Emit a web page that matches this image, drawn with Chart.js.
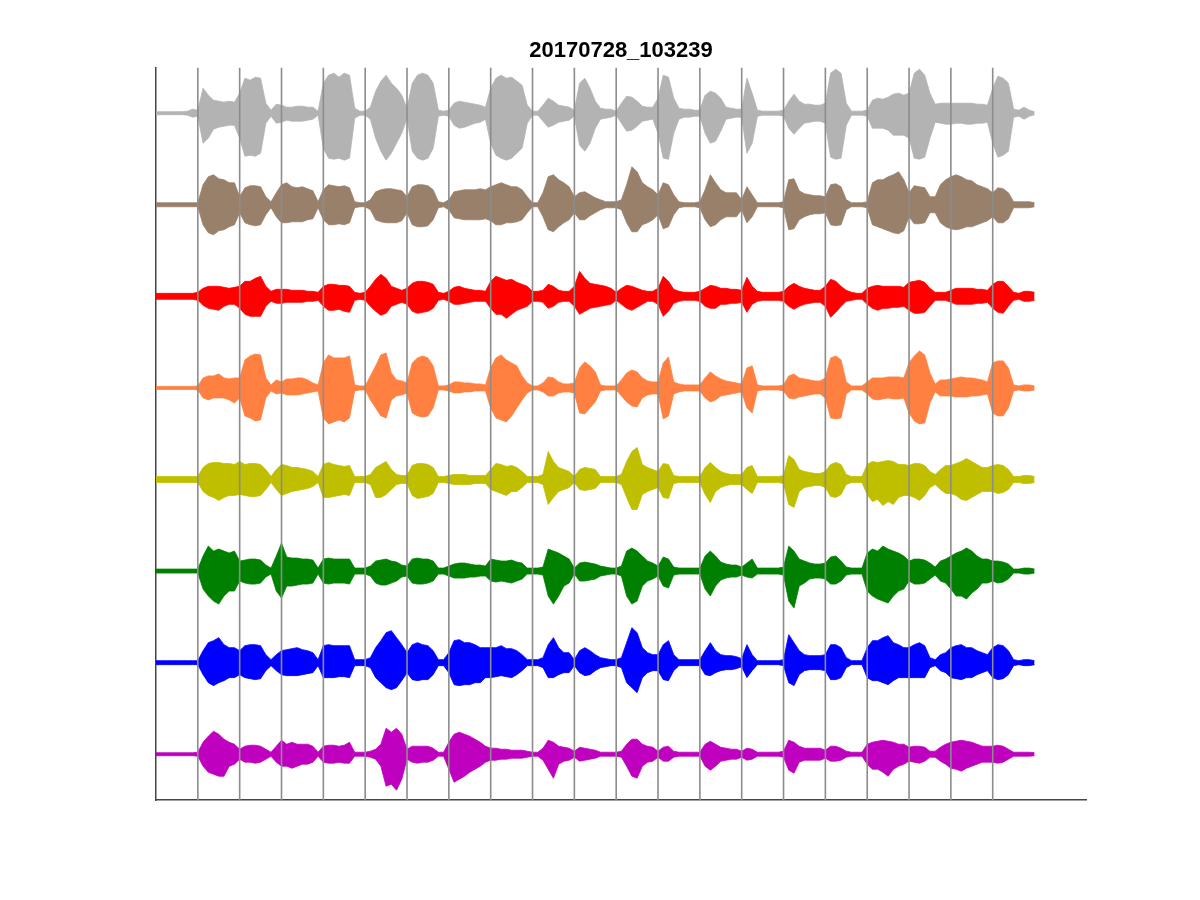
<!DOCTYPE html>
<html>
<head>
<meta charset="utf-8">
<script src="https://cdn.jsdelivr.net/npm/chart.js@4.4.1/dist/chart.umd.min.js"></script>
<style>
  html, body { margin: 0; padding: 0; background: #ffffff; }
  #wrap { width: 1200px; height: 900px; }
</style>
</head>
<body>
<div id="wrap"><canvas id="c" width="1200" height="900"></canvas></div>
<script>
// ---------------- data ----------------
const TITLE = '20170728_103239';
const SAMPLE_STEP = 0.125;         // time between envelope samples (marker-interval units)
const X_MAX = 22.23;               // axis limits
const Y_MAX = 8;
const AMP_UNIT = 1 / 91.6;         // amplitude units -> trace-spacing units
const markerTimes = [1, 2, 3, 4, 5, 6, 7, 8, 9, 10, 11, 12, 13, 14, 15, 16, 17, 18, 19, 20];

const channelColors  = ['#b3b3b3', '#99806a', '#ff0000', '#ff8040', '#bfbf00', '#008000', '#0000ff', '#bf00bf'];
const channelOffsets = [7.5, 6.5, 5.5, 4.5, 3.5, 2.5, 1.5, 0.5];

// envelope peaks (upper / lower), 8 samples per marker interval
const ch1Top = [1.5,1.5,1.5,1.5,1.5,1.5,2,4, 3,25,18,13,12,11,12,11, 20,35,33,36,35,10,3,9, 8,6,6,7,7,6,6,2, 30,38,40,36,40,38,5,2, 2,6,22,32,38,30,25,18, 5,30,38,40,38,30,3,2, 3,10,12,11,10,9,8,6, 25,35,38,35,36,32,28,8, 2,2,8,15,12,8,7,6, 3,30,35,25,12,5,4,4, 2,10,17,16,12,7,6,6, 15,38,36,15,5,4,4,3, 3,18,22,20,15,6,5,4, 4,35,20,3,2,2,2,2, 3,12,19,12,9,9,8,8, 10,40,44,40,10,2,2,2, 3,13,15,14,16,19,20,18, 20,40,44,38,20,9,10,10, 10,10,10,10,10,9,9,8, 25,37,35,30,4,3,6,3, 1.5];
const ch1Bot = [1.5,1.5,1.5,1.5,1.5,1.5,2,4, 3,30,25,16,14,13,12,12, 25,43,42,43,40,10,3,10, 9,7,8,8,8,7,6,2, 35,45,46,45,47,45,5,2, 2,6,25,38,47,40,30,20, 5,38,45,47,45,35,3,2, 3,12,15,14,12,10,9,6, 30,42,45,47,45,40,35,10, 2,2,8,14,12,9,8,7, 3,32,38,30,15,6,5,4, 2,10,18,17,13,8,7,6, 20,45,46,20,6,4,4,3, 3,20,30,28,18,6,5,4, 4,40,30,3,2,2,2,2, 3,15,21,15,10,9,8,8, 10,44,46,45,12,2,2,2, 3,15,15,15,17,22,22,22, 25,45,46,44,25,9,10,11, 11,10,10,11,11,10,10,9, 30,44,42,38,4,3,6,3, 1.5];

const ch2Top = [2,2,2,2,2,2,2,2, 2,20,28,30,26,25,22,22, 8,17,19,19,18,8,3,12, 20,22,18,17,18,16,14,3, 15,20,19,18,19,17,3,2, 2,5,13,15,16,16,15,14, 8,18,20,20,19,15,3,2, 5,13,14,15,15,15,16,15, 18,20,22,20,18,18,15,8, 2,2,12,28,30,25,22,18, 8,12,13,10,7,5,3,3, 3,5,20,38,33,22,18,15, 10,22,20,10,3,2,2,2, 3,15,30,22,15,12,12,12, 5,18,10,2,2,2,2,2, 3,25,26,14,11,10,9,9, 8,20,21,18,5,2,2,2, 3,22,25,25,28,30,33,25, 12,19,18,17,8,8,20,25, 28,30,28,25,24,20,18,16, 12,17,16,12,3,3,3,3, 2];
const ch2Bot = [2,2,2,2,2,2,2,2, 2,20,28,30,26,25,22,20, 8,18,20,21,20,10,3,12, 18,18,17,17,17,15,14,3, 15,20,20,19,20,18,3,2, 2,5,15,17,18,18,18,16, 8,20,22,22,21,15,3,2, 5,13,14,15,15,15,15,14, 16,20,20,18,18,17,15,8, 2,2,12,25,27,22,18,15, 8,15,15,11,8,5,3,3, 3,5,18,27,27,20,18,15, 10,24,22,10,3,2,2,2, 3,15,22,20,15,12,12,12, 5,18,12,2,2,2,2,2, 3,25,24,15,12,10,9,9, 8,20,21,20,5,2,2,2, 3,20,22,24,26,28,29,26, 12,19,19,18,8,8,18,22, 24,25,24,22,22,20,18,16, 12,18,18,14,3,3,3,3, 2];

const ch3Top = [3,3,3,3,3,3,3,3, 4,8,10,10,10,9,8,9, 10,15,15,18,20,10,5,7, 7,7,6,6,6,5,5,4, 10,12,12,11,11,10,4,3, 4,10,17,22,18,10,8,6, 8,13,15,15,14,12,4,3, 5,9,10,8,7,6,6,5, 15,20,18,16,17,14,12,10, 5,5,6,12,10,6,5,5, 10,25,18,13,12,11,10,8, 4,8,11,10,8,6,5,5, 8,20,15,7,5,4,4,4, 5,8,11,10,8,8,7,7, 6,19,10,5,4,4,4,4, 5,10,13,10,8,7,6,6, 10,17,15,10,6,4,3,3, 8,10,11,10,10,10,10,9, 14,15,16,14,8,4,4,4, 6,8,8,8,8,7,7,6, 12,15,15,10,4,3,5,5, 4];
const ch3Bot = [3,3,3,3,3,3,3,3, 4,9,12,13,14,10,8,8, 12,18,20,20,20,10,5,7, 7,6,6,6,6,5,5,4, 10,14,14,13,15,16,4,3, 4,10,15,19,17,10,8,6, 8,15,17,16,15,12,4,3, 5,8,8,7,6,5,5,5, 12,18,18,22,18,14,12,10, 5,5,6,12,10,6,5,5, 10,18,15,12,11,10,9,8, 4,8,12,14,11,8,5,5, 8,20,15,7,5,4,4,4, 5,10,12,12,8,8,7,7, 6,16,8,5,4,4,4,4, 5,10,13,10,8,7,6,6, 10,21,16,10,5,4,3,3, 8,12,14,12,12,11,11,10, 14,17,17,16,10,4,4,4, 6,8,8,8,8,7,7,6, 12,16,17,10,4,3,5,5, 4];

const ch4Top = [1.5,1.5,1.5,1.5,1.5,1.5,1.5,1.5, 2,10,12,12,14,10,9,10, 10,28,32,34,33,10,3,8, 6,9,9,10,10,8,5,3, 25,33,30,30,30,32,3,2, 2,12,22,33,35,15,8,7, 5,25,30,32,30,22,2,2, 3,6,6,5,5,4,4,3, 20,30,33,28,25,22,12,5, 2,2,5,11,10,6,4,4, 5,20,26,22,16,3,2,2, 2,8,15,18,16,10,7,6, 6,25,31,6,4,3,3,3, 3,10,16,12,9,7,6,5, 4,20,22,3,2,2,2,2, 3,12,14,10,9,8,7,7, 10,30,32,28,6,2,2,2, 6,10,10,10,11,11,11,10, 25,32,37,33,15,4,8,8, 9,10,11,10,10,9,8,6, 25,27,27,20,3,2,3,3, 2];
const ch4Bot = [1.5,1.5,1.5,1.5,1.5,1.5,1.5,1.5, 2,10,12,10,10,10,12,15, 10,28,30,33,32,10,3,6, 5,7,7,7,6,5,4,3, 30,36,34,32,34,30,3,2, 2,12,20,28,30,12,8,7, 5,25,28,29,28,20,2,2, 3,5,5,4,4,3,3,3, 20,30,32,34,28,20,12,5, 2,2,4,8,8,5,4,4, 5,25,26,20,14,3,2,2, 2,8,14,18,19,10,7,6, 6,31,28,6,4,3,3,3, 3,10,14,12,8,7,6,5, 4,20,25,3,2,2,2,2, 3,10,11,9,8,7,6,6, 10,30,31,30,6,2,2,2, 6,11,12,11,10,11,11,10, 25,33,36,35,15,4,8,8, 8,9,9,9,8,8,7,6, 25,28,28,20,3,2,3,3, 2];

const ch5Top = [3,3,3,3,3,3,3,3, 3,12,16,17,17,16,16,15, 18,15,16,16,15,10,3,10, 15,14,12,12,11,10,8,3, 15,17,15,14,13,14,3,3, 3,5,12,15,18,10,5,4, 4,14,16,16,15,12,3,3, 4,5,5,5,4,4,4,4, 10,16,15,13,14,12,8,3, 3,3,5,28,18,12,10,8, 3,10,12,11,10,3,3,3, 3,5,18,28,32,15,12,10, 8,16,15,4,3,3,3,3, 3,12,17,12,8,6,5,5, 5,12,14,3,3,3,3,3, 4,24,20,10,8,7,6,6, 8,15,17,15,5,3,3,3, 15,18,17,18,19,18,15,15, 14,16,16,14,8,5,10,14, 14,16,18,21,18,15,12,12, 14,15,14,10,3,3,4,4, 3];
const ch5Bot = [3,3,3,3,3,3,3,3, 3,12,16,18,21,18,16,16, 15,16,17,17,16,10,3,10, 16,14,12,11,10,9,7,3, 18,18,17,16,15,16,3,3, 3,5,18,18,15,10,5,4, 4,16,19,18,17,14,3,3, 4,5,5,5,5,4,4,4, 10,12,14,16,12,12,8,3, 3,3,5,25,18,12,10,8, 3,10,11,10,9,3,3,3, 3,5,18,30,30,15,12,10, 8,18,19,4,3,3,3,3, 3,15,23,12,8,6,5,5, 5,10,14,3,3,3,3,3, 4,25,28,12,8,7,6,6, 8,17,18,15,5,3,3,3, 15,22,20,26,22,25,18,16, 16,18,21,16,8,5,10,14, 14,16,20,21,18,15,12,12, 12,14,13,10,3,3,4,4, 3];

const ch6Top = [2,2,2,2,2,2,2,2, 2,15,25,20,22,20,18,20, 10,11,12,12,11,6,3,15, 28,14,13,13,12,12,11,3, 12,13,12,12,12,12,3,3, 3,5,10,11,12,10,9,6, 5,12,13,12,12,10,3,3, 5,7,8,8,7,6,6,5, 12,11,10,10,11,9,8,3, 3,3,4,22,20,18,15,12, 3,8,9,8,7,5,4,3, 3,5,20,23,20,15,10,8, 5,14,12,4,3,3,3,3, 3,15,20,15,9,7,6,6, 4,8,12,3,3,3,3,3, 4,25,20,12,10,8,7,7, 8,14,15,10,4,3,3,3, 18,22,20,25,22,20,18,15, 10,12,12,11,8,4,10,12, 15,18,20,23,20,15,12,12, 10,10,9,7,2,2,3,3, 2];
const ch6Bot = [2,2,2,2,2,2,2,2, 2,18,25,30,33,25,20,20, 10,12,13,13,12,6,3,20, 27,15,15,14,13,13,12,3, 12,13,12,12,12,13,3,3, 3,5,12,14,14,12,10,6, 5,12,13,13,12,10,3,3, 5,7,7,7,6,6,5,5, 10,11,10,11,12,10,8,3, 3,3,4,25,33,25,15,12, 3,10,10,9,8,5,4,3, 3,5,25,33,30,15,10,8, 5,15,17,4,3,3,3,3, 3,18,25,15,9,7,6,6, 4,6,7,3,3,3,3,3, 4,30,37,15,12,8,7,7, 8,13,13,10,4,3,3,3, 20,25,28,30,32,25,20,18, 10,13,13,12,8,4,10,12, 18,25,25,28,22,18,12,12, 10,12,11,8,2,2,3,3, 2];

const ch7Top = [2,2,2,2,2,2,2,2, 2,12,20,22,25,18,15,15, 12,17,18,18,17,8,3,8, 12,13,14,15,13,12,10,3, 17,18,17,17,17,17,3,3, 3,5,15,22,30,32,25,18, 10,18,20,18,17,12,3,3, 10,22,23,20,20,18,15,15, 15,15,17,14,14,12,8,3, 3,3,5,18,25,15,10,10, 3,12,15,12,8,5,4,3, 3,5,20,35,30,15,10,8, 8,18,22,8,3,3,3,3, 3,12,20,12,8,7,7,6, 4,18,8,2,2,2,2,2, 3,28,20,12,8,7,7,7, 8,18,18,15,5,2,2,2, 15,22,22,25,27,20,18,15, 15,18,20,17,5,3,8,10, 15,17,18,15,15,12,10,8, 15,18,17,12,3,2,3,3, 2];
const ch7Bot = [2,2,2,2,2,2,2,2, 2,12,20,23,20,18,15,15, 12,15,16,17,16,8,3,8, 12,13,13,13,12,11,10,3, 15,15,15,14,14,15,3,3, 3,5,15,20,25,27,25,18, 10,17,18,17,17,12,3,3, 10,22,23,22,22,20,20,15, 15,14,13,14,15,12,8,3, 3,3,5,15,15,12,10,10, 3,10,13,12,8,5,4,3, 3,5,20,25,30,15,10,8, 8,17,18,8,3,3,3,3, 3,12,13,10,8,7,7,6, 4,15,8,2,2,2,2,2, 3,20,23,12,8,7,7,7, 8,17,17,15,5,2,2,2, 15,18,18,20,22,18,15,15, 15,15,15,15,5,3,8,10, 15,16,17,15,15,12,10,8, 15,17,16,12,3,2,3,3, 2];

const ch8Top = [1.5,1.5,1.5,1.5,1.5,1.5,1.5,1.5, 2,12,18,23,20,15,12,10, 5,8,9,9,8,5,2,8, 14,10,12,10,10,10,8,2, 8,9,9,8,9,12,2,2, 2,3,5,10,26,22,26,20, 5,8,8,8,8,6,2,2, 12,20,22,20,18,15,12,8, 6,6,5,5,4,4,4,3, 2,2,6,14,12,8,7,6, 3,7,6,5,4,2,2,2, 2,3,10,15,15,10,8,7, 3,7,8,3,2,2,2,2, 2,10,13,10,7,6,5,5, 3,6,5,2,2,2,2,2, 3,14,12,8,6,6,6,6, 4,8,8,6,3,2,2,2, 10,12,13,14,13,12,10,10, 7,8,8,7,3,3,7,10, 12,13,14,13,12,10,8,8, 8,9,8,5,2,2,2,2, 1.5];
const ch8Bot = [1.5,1.5,1.5,1.5,1.5,1.5,1.5,1.5, 2,12,18,20,22,22,12,10, 5,8,8,9,8,5,2,8, 12,12,14,12,10,10,8,2, 8,9,9,8,9,9,2,2, 2,3,5,12,32,30,36,25, 5,8,9,8,8,6,2,2, 15,28,25,22,18,15,12,8, 6,6,5,5,4,4,4,3, 2,2,6,15,24,10,7,6, 3,7,6,5,4,2,2,2, 2,3,12,22,24,12,8,7, 3,7,7,3,2,2,2,2, 2,12,16,12,7,6,5,5, 3,6,5,2,2,2,2,2, 3,16,19,8,6,6,6,6, 4,7,7,6,3,2,2,2, 10,15,15,18,22,15,12,10, 7,8,9,7,3,3,7,10, 14,15,17,14,12,10,8,8, 8,9,8,5,2,2,2,2, 1.5];

const channelTops = [ch1Top, ch2Top, ch3Top, ch4Top, ch5Top, ch6Top, ch7Top, ch8Top];
const channelBots = [ch1Bot, ch2Bot, ch3Bot, ch4Bot, ch5Bot, ch6Bot, ch7Bot, ch8Bot];

// ---------------- chart ----------------
const datasets = [];

// marker lines (drawn on top of the traces)
markerTimes.forEach(t => {
  datasets.push({
    type: 'line',
    data: [{ x: t, y: 0 }, { x: t, y: Y_MAX }],
    borderColor: '#8c8c8c',
    borderWidth: 1.6,
    pointRadius: 0,
    fill: false,
    order: 0
  });
});

// traces: upper envelope filled down to the lower envelope
channelTops.forEach((top, c) => {
  const bot = channelBots[c];
  const off = channelOffsets[c];
  const col = channelColors[c];
  if (top.length !== bot.length) console.warn('length mismatch', c, top.length, bot.length);
  datasets.push({
    type: 'line',
    data: top.map((v, i) => ({ x: i * SAMPLE_STEP, y: off + v * AMP_UNIT })),
    borderColor: col,
    backgroundColor: col,
    borderWidth: 0.8,
    pointRadius: 0,
    tension: 0,
    fill: '+1',
    order: 1
  });
  datasets.push({
    type: 'line',
    data: bot.map((v, i) => ({ x: i * SAMPLE_STEP, y: off - v * AMP_UNIT })),
    borderColor: col,
    backgroundColor: col,
    borderWidth: 0.8,
    pointRadius: 0,
    tension: 0,
    fill: false,
    order: 1
  });
});

new Chart(document.getElementById('c'), {
  type: 'line',
  data: { datasets },
  options: {
    responsive: false,
    devicePixelRatio: 1,
    animation: false,
    events: [],
    layout: { padding: { left: 156, right: 114, top: 0, bottom: 100 } },
    plugins: {
      legend: { display: false },
      tooltip: { enabled: false },
      title: {
        display: true,
        text: TITLE,
        color: '#000000',
        font: { family: '"Liberation Sans", Arial, Helvetica, sans-serif', size: 22, weight: 'bold', lineHeight: 1.2 },
        padding: { top: 38, bottom: 3 }
      }
    },
    scales: {
      x: {
        type: 'linear',
        min: 0,
        max: X_MAX,
        ticks: { display: false },
        grid: { display: false, drawTicks: false },
        border: { display: true, color: '#454545', width: 1.5 }
      },
      y: {
        type: 'linear',
        min: 0,
        max: Y_MAX,
        ticks: { display: false },
        grid: { display: false, drawTicks: false },
        border: { display: true, color: '#454545', width: 1.5 }
      }
    }
  }
});
</script>
</body>
</html>
